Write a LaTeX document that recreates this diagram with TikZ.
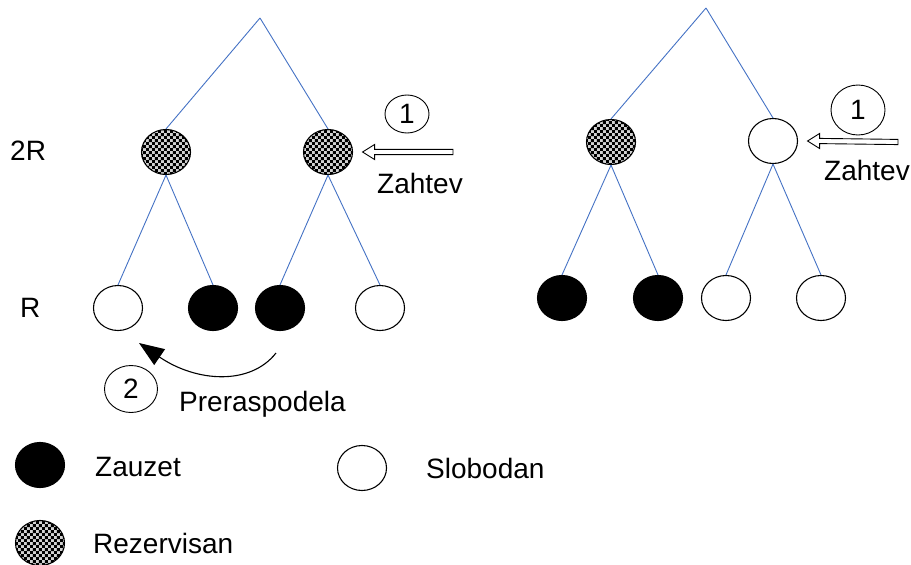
\documentclass[tikz,border=0pt]{standalone}
\usepackage{fontspec}
\setmainfont{Liberation Sans}
\usetikzlibrary{shapes.geometric,arrows.meta,patterns.meta,calc}
\tikzdeclarepattern{
  name=checks,
  type=uncolored,
  bottom left={(0pt,0pt)},
  top right={(6.4pt,6.4pt)},
  tile size={(6.4pt,6.4pt)},
  code={\fill (0pt,0pt) rectangle (3.2pt,3.2pt); \fill (3.2pt,3.2pt) rectangle (6.4pt,6.4pt);}
}
\definecolor{treeblue}{RGB}{68,114,196}
\tikzset{
  free/.style={ellipse, draw=black, line width=1.1pt, minimum width=49pt, minimum height=45pt, inner sep=0pt, fill=white},
  busy/.style={free, fill=black},
  res/.style={free, fill=gray!35, postaction={pattern=checks, pattern color=black}},
  edge/.style={draw=treeblue, line width=0.9pt},
  lbl/.style={inner sep=0pt, anchor=base west, font=\fontsize{28}{33}\selectfont},
  num/.style={ellipse, draw=black, line width=0.9pt, inner sep=0pt, font=\fontsize{28}{33}\selectfont},
  hollow/.style={draw=black, line width=0.9pt, fill=white},
  curved/.style={draw=black, line width=1.1pt}
}
\begin{document}
\begin{tikzpicture}[x=1pt,y=-1pt]
\useasboundingbox (0,0) rectangle (911,565);

% ---- left tree ----
\coordinate (L0) at (260,18);
\node[res]  (L1)  at (166,152) {};
\node[res]  (L2)  at (328,152) {};
\node[free] (L11) at (118,308) {};
\node[busy] (L12) at (213,308) {};
\node[busy] (L21) at (280,308) {};
\node[free] (L22) at (380,308) {};
\draw[edge] (L0) -- (L1.north);
\draw[edge] (L0) -- (L2.north);
\draw[edge] (L1.south) -- (L11.north);
\draw[edge] (L1.south) -- (L12.north);
\draw[edge] (L2.south) -- (L21.north);
\draw[edge] (L2.south) -- (L22.north);

% ---- right tree ----
\coordinate (R0) at (706,8);
\node[res]  (R1)  at (611,142) {};
\node[free] (R2)  at (773,141) {};
\node[busy] (R11) at (562,298) {};
\node[busy] (R12) at (658,298) {};
\node[free] (R21) at (726,298) {};
\node[free] (R22) at (821,298) {};
\draw[edge] (R0) -- (R1.north);
\draw[edge] (R0) -- (R2.north);
\draw[edge] (R1.south) -- (R11.north);
\draw[edge] (R1.south) -- (R12.north);
\draw[edge] (R2.south) -- (R21.north);
\draw[edge] (R2.south) -- (R22.north);

% ---- level labels ----
\node[lbl] (t2R) at (10,160) {2R};
\node[lbl] (tR) at (20,317) {R};

% ---- request arrow left ----
\coordinate (A1h) at ($(L2.east)+(9.5,0)$);
\coordinate (A1t) at (453,152);
\draw[hollow] ($(A1t)+(0,-2.6)$) -- ($(A1h)+(12,-2.6)$) -- ($(A1h)+(12,-7.5)$) -- (A1h)
  -- ($(A1h)+(12,7.5)$) -- ($(A1h)+(12,2.6)$) -- ($(A1t)+(0,2.6)$) -- cycle;
\node[num, minimum width=44pt, minimum height=38pt] (n1L) at (407,114) {1};
\node[lbl] (zL) at (377,193) {Zahtev};

% ---- request arrow right ----
\coordinate (A2h) at ($(R2.east)+(9.5,0)$);
\coordinate (A2t) at (898,142);
\draw[hollow] ($(A2t)+(0,-2.6)$) -- ($(A2h)+(12,-2.6)$) -- ($(A2h)+(12,-7.5)$) -- (A2h)
  -- ($(A2h)+(12,7.5)$) -- ($(A2h)+(12,2.6)$) -- ($(A2t)+(0,2.6)$) -- cycle;
\node[num, minimum width=54pt, minimum height=50pt] (n1R) at (858,110) {1};
\node[lbl] (zR) at (824,180) {Zahtev};

% ---- redistribution arrow ----
\coordinate (cs) at (276,353);
\coordinate (ce) at (139,343);
\draw[curved, -{Triangle[length=25pt, width=19pt]}] (cs) .. controls (250,386) and (196,382) .. (ce);
\node[num, minimum width=53pt, minimum height=47pt] (n2) at (131,389) {2};
\node[lbl] (pre) at (179,411) {Preraspodela};

% ---- legend ----
\node[busy] (g1) at (40,465) {};
\node[lbl] (g1t) at (95,476) {Zauzet};
\node[free] (g2) at (362,468) {};
\node[lbl] (g2t) at (426,478) {Slobodan};
\node[res] (g3) at (40,543) {};
\node[lbl] (g3t) at (93,553) {Rezervisan};
\end{tikzpicture}
\end{document}
